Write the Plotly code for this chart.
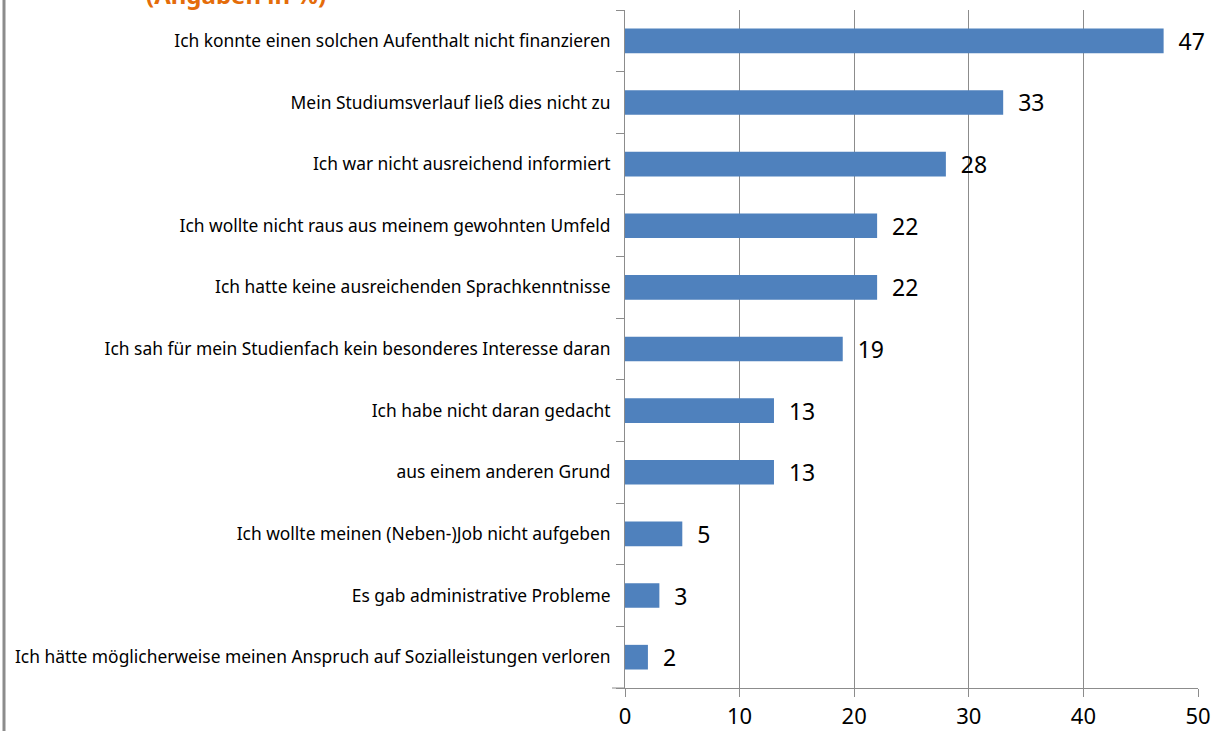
import plotly.graph_objects as go

categories = [
    "Ich konnte einen solchen Aufenthalt nicht finanzieren",
    "Mein Studiumsverlauf ließ dies nicht zu",
    "Ich war nicht ausreichend informiert",
    "Ich wollte nicht raus aus meinem gewohnten Umfeld",
    "Ich hatte keine ausreichenden Sprachkenntnisse",
    "Ich sah für mein Studienfach kein besonderes Interesse daran",
    "Ich habe nicht daran gedacht",
    "aus einem anderen Grund",
    "Ich wollte meinen (Neben-)Job nicht aufgeben",
    "Es gab administrative Probleme",
    "Ich hätte möglicherweise meinen Anspruch auf Sozialleistungen verloren",
]
values = [47, 33, 28, 22, 22, 19, 13, 13, 5, 3, 2]
x_ticks = [0, 10, 20, 30, 40, 50]
title_text = "(Angaben in %)"

W, H = 1218, 731
ml, mr, mt, mb = 625, 20, 10, 43
pw = W - ml - mr
ph = H - mt - mb

fig = go.Figure(go.Bar(
    y=categories, x=values, orientation="h",
    marker=dict(color="#4F81BD", line=dict(width=0)),
    width=0.4,
    text=["\u00a0\u00a0" + str(v) for v in values], textposition="outside",
    textfont=dict(size=23, color="#000000", family="Noto Sans"),
    constraintext="none",
    cliponaxis=False,
))

fig.update_layout(
    width=W, height=H,
    margin=dict(l=ml, r=mr, t=mt, b=mb, autoexpand=False),
    paper_bgcolor="white", plot_bgcolor="white",
    showlegend=False,
    font=dict(family="Noto Sans", color="#000000"),
    xaxis=dict(
        range=[0, 50], tickvals=x_ticks, ticktext=[str(t) for t in x_ticks],
        showgrid=True, gridcolor="#8c8c8c", gridwidth=1,
        showline=True, linecolor="#8c8c8c", linewidth=1,
        ticks="outside", ticklen=8, tickcolor="#8c8c8c",
        tickfont=dict(size=22, color="#000000"),
        ticklabelstandoff=1, automargin=False,
        zeroline=False, fixedrange=True,
    ),
    yaxis=dict(
        categoryorder="array", categoryarray=categories[::-1],
        autorange=True, automargin=False,
        showline=True, linecolor="#8c8c8c", linewidth=1,
        ticks="outside", ticklen=8, tickcolor="#8c8c8c",
        tickson="boundaries",
        tickfont=dict(size=17.4, color="#000000"),
        ticklabelstandoff=10,
        showgrid=False, fixedrange=True,
    ),
    bargap=0.6,
)

# Left border line of the slide frame
fig.add_shape(type="line", xref="paper", yref="paper",
              x0=(4 - ml) / pw, x1=(4 - ml) / pw, y0=-mb / ph, y1=1 + mt / ph,
              line=dict(color="#8c8c8c", width=3))
# Small extension of the x-axis line to the left
fig.add_shape(type="line", xref="paper", yref="paper",
              x0=(612 - ml) / pw, x1=0, y0=0, y1=0,
              line=dict(color="#8c8c8c", width=1))

fig.add_annotation(
    text="<b>" + title_text + "</b>", xref="paper", yref="paper",
    x=(236 - ml) / pw, y=1 + (mt + 6) / ph, xanchor="center", yanchor="middle",
    showarrow=False, font=dict(size=24, color="#E46C0A", family="Noto Sans"),
)

fig.write_html("out.html", config={"displayModeBar": False},
               post_script="document.body.style.margin='0';")
